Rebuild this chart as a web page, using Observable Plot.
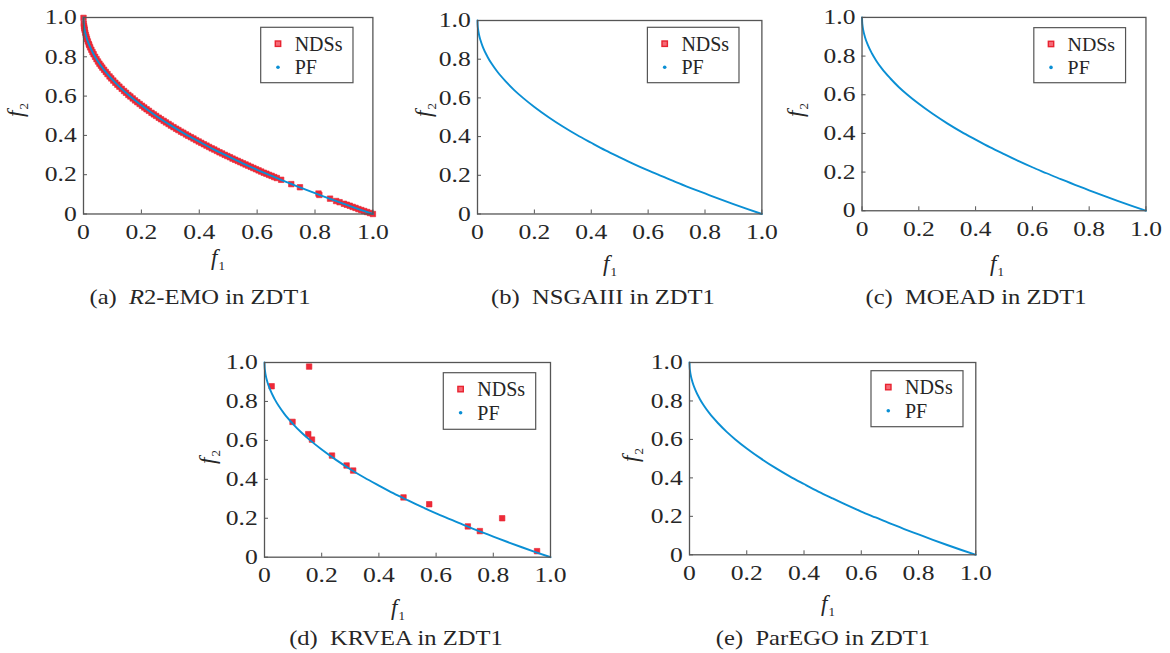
<!DOCTYPE html>
<html><head><meta charset="utf-8">
<script src="https://cdn.jsdelivr.net/npm/d3@7"></script>
<script src="https://cdn.jsdelivr.net/npm/@observablehq/plot@0.6"></script>
<style>
html,body{margin:0;padding:0;background:#fff}
body{width:1170px;height:653px;overflow:hidden;position:relative;font-family:"Liberation Serif",serif;color:#262626}
.panel{position:absolute}
.panel svg{overflow:visible}
.lbl,.cap{position:absolute;white-space:nowrap;line-height:1}
.lbl{font-size:23px;transform:translate(-50%,-50%)}
.cap{font-size:21px;transform:translate(-50%,-50%) scaleX(1.17)}
.ylbl{transform:translate(-50%,-50%) rotate(-90deg)}
.sub{font-size:13px;font-style:normal;position:relative;top:5px;margin-left:1px}
</style></head><body>
<script>
// ---------- data ----------
const tickValues = [0, 0.2, 0.4, 0.6, 0.8, 1.0];
const tickLabels = ["0", "0.2", "0.4", "0.6", "0.8", "1.0"];
const legendLabels = ["NDSs", "PF"];
const algorithms = ["R2-EMO", "NSGAIII", "MOEAD", "KRVEA", "ParEGO"];
const captionTags = ["(a)", "(b)", "(c)", "(d)", "(e)"];
const problem = "ZDT1";

// true Pareto front
const pfF1 = [0, 0.0005, 0.002, 0.005, 0.01, 0.02, 0.035, 0.05, 0.07, 0.1, 0.13, 0.16, 0.2, 0.25, 0.3, 0.35, 0.4, 0.45, 0.5, 0.55, 0.6, 0.65, 0.7, 0.75, 0.8, 0.85, 0.9, 0.95, 1.0];
const pfF2 = [1.0, 0.978, 0.955, 0.929, 0.9, 0.859, 0.813, 0.776, 0.735, 0.684, 0.639, 0.6, 0.553, 0.5, 0.452, 0.408, 0.368, 0.329, 0.293, 0.258, 0.225, 0.194, 0.163, 0.134, 0.106, 0.078, 0.051, 0.025, 0];

// non-dominated solutions
const r2emoF1 = [0, 0.001, 0.002, 0.003, 0.004, 0.006, 0.008, 0.01, 0.012, 0.015, 0.018, 0.02, 0.023, 0.027, 0.031, 0.035, 0.04, 0.045, 0.05, 0.055, 0.06, 0.065, 0.071, 0.077, 0.083, 0.09, 0.096, 0.103, 0.11, 0.117, 0.124, 0.132, 0.14, 0.147, 0.155, 0.162, 0.17, 0.178, 0.186, 0.194, 0.202, 0.21, 0.218, 0.226, 0.235, 0.243, 0.251, 0.26, 0.268, 0.277, 0.285, 0.294, 0.302, 0.311, 0.32, 0.328, 0.337, 0.345, 0.354, 0.362, 0.371, 0.38, 0.389, 0.398, 0.407, 0.416, 0.425, 0.434, 0.443, 0.452, 0.461, 0.47, 0.479, 0.488, 0.497, 0.506, 0.515, 0.524, 0.533, 0.542, 0.551, 0.56, 0.569, 0.578, 0.587, 0.596, 0.605, 0.614, 0.623, 0.632, 0.641, 0.65, 0.659, 0.668, 0.683, 0.718, 0.748, 0.812, 0.815, 0.852, 0.873, 0.885, 0.9, 0.91, 0.92, 0.93, 0.94, 0.95, 0.96, 0.97, 0.98, 0.99, 1.0];
const r2emoF2 = [0.998, 0.968, 0.955, 0.945, 0.937, 0.923, 0.911, 0.9, 0.89, 0.878, 0.866, 0.859, 0.848, 0.836, 0.824, 0.813, 0.8, 0.788, 0.776, 0.765, 0.755, 0.745, 0.734, 0.723, 0.712, 0.7, 0.69, 0.679, 0.668, 0.658, 0.648, 0.637, 0.626, 0.617, 0.606, 0.598, 0.588, 0.578, 0.569, 0.56, 0.551, 0.542, 0.533, 0.525, 0.515, 0.507, 0.499, 0.49, 0.482, 0.474, 0.466, 0.458, 0.45, 0.442, 0.434, 0.427, 0.419, 0.413, 0.405, 0.398, 0.391, 0.384, 0.376, 0.369, 0.362, 0.355, 0.348, 0.341, 0.334, 0.328, 0.321, 0.314, 0.308, 0.301, 0.295, 0.289, 0.282, 0.276, 0.27, 0.264, 0.258, 0.252, 0.246, 0.24, 0.234, 0.228, 0.222, 0.216, 0.21, 0.205, 0.199, 0.194, 0.188, 0.183, 0.174, 0.152, 0.136, 0.104, 0.097, 0.078, 0.066, 0.06, 0.052, 0.047, 0.042, 0.036, 0.031, 0.025, 0.02, 0.015, 0.01, 0.005, 0.0];
const nsga3F1 = [], nsga3F2 = [];
const moeadF1 = [], moeadF2 = [];
const krveaF1 = [0.025, 0.156, 0.098, 0.153, 0.166, 0.236, 0.287, 0.310, 0.486, 0.576, 0.711, 0.753, 0.831, 0.953];
const krveaF2 = [0.878, 0.979, 0.695, 0.632, 0.604, 0.522, 0.471, 0.445, 0.307, 0.272, 0.158, 0.134, 0.200, 0.031];
const paregoF1 = [], paregoF2 = [];

const ndsF1 = [r2emoF1, nsga3F1, moeadF1, krveaF1, paregoF1];
const ndsF2 = [r2emoF2, nsga3F2, moeadF2, krveaF2, paregoF2];

// ---------- layout (pixels) ----------
const layout = [
  {L: 83.3, R: 372.7, T: 17, B: 213.5, legend: [261, 27.3, 353.3, 82.7], yl: [15, 110], xl: [218, 257], cap: [200, 297]},
  {L: 477.3, R: 761.7, T: 20, B: 213.5, legend: [647.7, 27.3, 739.3, 82.7], yl: [423, 110], xl: [610, 263], cap: [603, 297]},
  {L: 861.7, R: 1147.3, T: 16.5, B: 211, legend: [1035, 27.3, 1127.3, 82.7], yl: [795, 110], xl: [997, 263], cap: [976, 297]},
  {L: 264, R: 550, T: 362, B: 556.7, legend: [443.3, 372.7, 535.7, 429.3], yl: [207, 457], xl: [398, 607], cap: [396, 638]},
  {L: 688.7, R: 975, T: 362, B: 554.3, legend: [870.7, 370.7, 962.7, 426.7], yl: [630, 455], xl: [828, 603], cap: [823, 638]}
];
const FONT = "'Liberation Serif', serif";
const RED = "#ee2a38", RED_STROKE = "#e82330", BLUE = "#0a8fd4", FRAME = "#555555", TEXT = "#262626";
const ML = 80, MT = 15, MR = 25, MB = 32;
const TICK_STRETCH = 1.22;
const fmt = d => tickLabels[tickValues.indexOf(d)];

const pf = pfF1.map((x, i) => ({f1: x, f2: pfF2[i]}));

algorithms.forEach((alg, k) => {
  const g = layout[k];
  const nds = ndsF1[k].map((x, i) => ({f1: x, f2: ndsF2[k][i]}));
  const fw = g.R - g.L, fh = g.B - g.T;
  const svg = Plot.plot({
    width: fw + ML + MR, height: fh + MT + MB,
    marginLeft: ML, marginTop: MT, marginRight: MR, marginBottom: MB,
    x: {domain: [0, 1]},
    y: {domain: [0, 1]},
    style: {fontFamily: FONT, fontSize: "21px", color: TEXT, background: "transparent", overflow: "visible"},
    marks: [
      Plot.dot(nds, {x: "f1", y: "f2", symbol: "square", r: 3.1, fill: RED, stroke: RED_STROKE, strokeWidth: 0.6}),
      Plot.line(pf, {x: "f1", y: "f2", stroke: BLUE, strokeWidth: 1.9, curve: "monotone-x"}),
      Plot.axisX(tickValues, {tickSize: -4, tickPadding: 14, tickFormat: fmt, label: null, stroke: FRAME, fill: TEXT}),
      Plot.axisY(tickValues, {tickSize: -4, tickPadding: 10.7, tickFormat: fmt, label: null, stroke: FRAME, fill: TEXT}),
      Plot.frame({stroke: FRAME, strokeWidth: 1.3})
    ]
  });
  const div = document.createElement("div");
  div.className = "panel";
  div.style.left = (g.L - ML) + "px";
  div.style.top = (g.T - MT) + "px";
  div.appendChild(svg);
  document.body.appendChild(div);

  // widen tick labels to the reference's proportions
  d3.select(svg).selectAll('g[aria-label$="tick label"] text').each(function () {
    const len = this.getComputedTextLength();
    this.setAttribute("textLength", (len * TICK_STRETCH).toFixed(2));
    this.setAttribute("lengthAdjust", "spacingAndGlyphs");
  });

  // legend box
  const ox = g.L - ML, oy = g.T - MT;
  const [lx0, ly0, lx1, ly1] = g.legend;
  const lg = d3.select(svg).append("g").attr("transform", `translate(${lx0 - ox},${ly0 - oy})`).attr("text-anchor", "start");
  lg.append("rect").attr("width", lx1 - lx0).attr("height", ly1 - ly0).attr("fill", "#fff").attr("stroke", FRAME).attr("stroke-width", 1.2);
  lg.append("rect").attr("x", 17.3 - 2.7).attr("y", 16.4 - 2.7).attr("width", 5.4).attr("height", 5.4).attr("fill", "#f56a76").attr("stroke", RED_STROKE).attr("stroke-width", 1.4);
  lg.append("circle").attr("cx", 17.3).attr("cy", 40).attr("r", 1.8).attr("fill", BLUE);
  lg.append("text").attr("x", 34).attr("y", 16.4).attr("dy", "0.35em").attr("font-size", 20).attr("font-family", FONT).attr("fill", TEXT).text(legendLabels[0]);
  lg.append("text").attr("x", 34).attr("y", 40).attr("dy", "0.35em").attr("font-size", 20).attr("font-family", FONT).attr("fill", TEXT).text(legendLabels[1]);

  // axis labels
  const xl = document.createElement("div");
  xl.className = "lbl";
  xl.style.left = g.xl[0] + "px"; xl.style.top = g.xl[1] + "px";
  xl.innerHTML = '<i>f</i><span class="sub">1</span>';
  document.body.appendChild(xl);
  const yl = document.createElement("div");
  yl.className = "lbl ylbl";
  yl.style.left = g.yl[0] + "px"; yl.style.top = g.yl[1] + "px";
  yl.innerHTML = '<i>f</i><span class="sub">2</span>';
  document.body.appendChild(yl);

  // caption
  const cap = document.createElement("div");
  cap.className = "cap";
  cap.style.left = g.cap[0] + "px"; cap.style.top = g.cap[1] + "px";
  const name = alg.startsWith("R2") ? '<i>R</i>' + alg.slice(1) : alg;
  cap.innerHTML = captionTags[k] + '&nbsp;&nbsp;' + name + ' in ' + problem;
  document.body.appendChild(cap);
});
</script>
</body></html>
